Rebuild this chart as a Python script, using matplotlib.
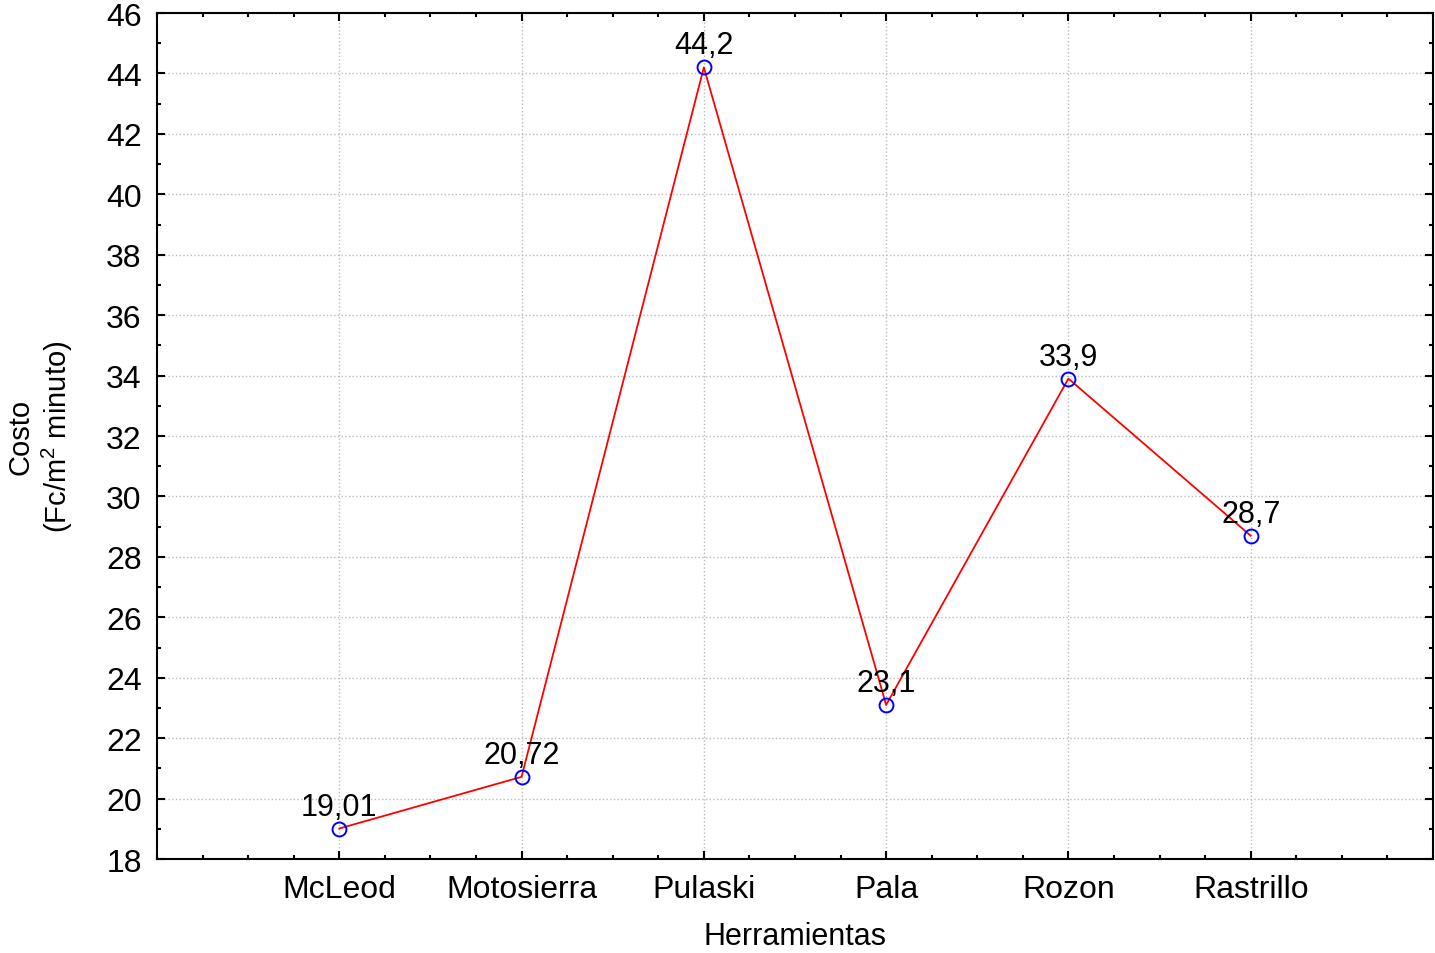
import matplotlib.pyplot as plt
from matplotlib.ticker import MultipleLocator

# Data
herramientas = ["McLeod", "Motosierra", "Pulaski", "Pala", "Rozon", "Rastrillo"]
costo = [19.01, 20.72, 44.2, 23.1, 33.9, 28.7]
etiquetas = ["19,01", "20,72", "44,2", "23,1", "33,9", "28,7"]

plt.rcParams['font.family'] = ['Liberation Sans', 'DejaVu Sans']
plt.rcParams['mathtext.fontset'] = 'custom'
plt.rcParams['mathtext.rm'] = 'Liberation Sans'

fig = plt.figure(figsize=(14.35, 9.54), dpi=100)
ax = fig.add_axes([0.1094, 0.0985, 0.8892, 0.8868])

x = list(range(1, len(herramientas) + 1))
ax.plot(x, costo, color='red', linewidth=1.3, zorder=2)
ax.plot(x, costo, linestyle='none', marker='o', markersize=10,
        markerfacecolor='none', markeredgecolor='blue', markeredgewidth=1.4, zorder=3)

for xi, yi, lab in zip(x, costo, etiquetas):
    ax.annotate(lab, (xi, yi), xytext=(0, 5), textcoords='offset points',
                ha='center', va='bottom', fontsize=22)

ax.set_xlim(0, 7)
ax.set_ylim(18, 46)
ax.set_xticks(x)
ax.set_xticklabels(herramientas)
ax.xaxis.set_minor_locator(MultipleLocator(0.25))
ax.yaxis.set_major_locator(MultipleLocator(2))
ax.yaxis.set_minor_locator(MultipleLocator(1))

ax.tick_params(which='both', direction='in', top=True, right=True, width=1.5)
ax.tick_params(which='major', length=6, labelsize=23, pad=11)
ax.tick_params(which='minor', length=3)

for s in ax.spines.values():
    s.set_linewidth(1.5)

ax.grid(True, which='major', linestyle=':', color='#bbbbbb', linewidth=1)

ax.set_xlabel("Herramientas", fontsize=22, labelpad=12)
ax.set_ylabel("Costo\n(Fc/m$^2$ minuto)", fontsize=21, labelpad=22)

plt.savefig("out.png", dpi=100)
